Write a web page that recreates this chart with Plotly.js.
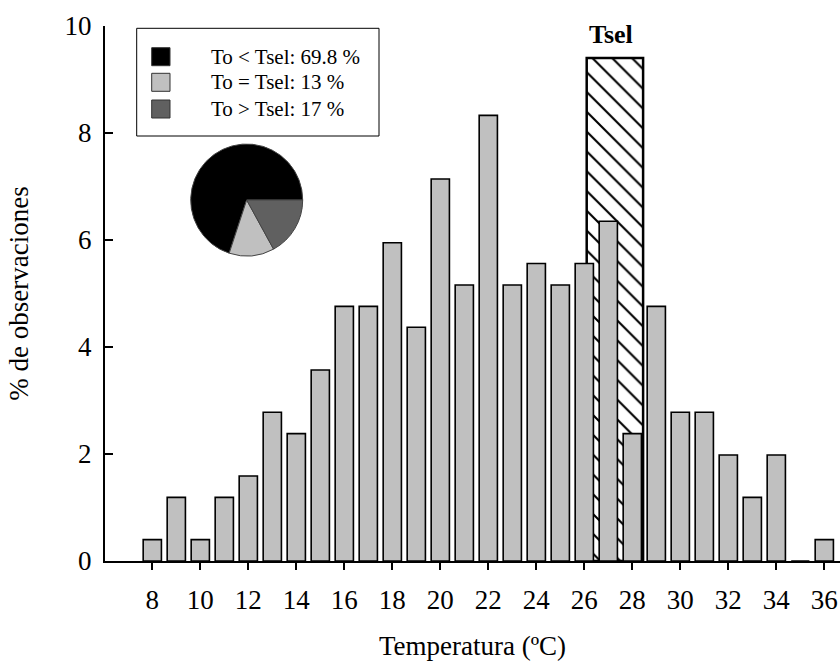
<!DOCTYPE html>
<html><head><meta charset="utf-8">
<script src="https://cdn.plot.ly/plotly-3.0.1.min.js"></script>
<style>html,body{margin:0;padding:0;background:#fff}</style>
</head><body>
<div id="chart" style="width:840px;height:667px"></div>
<script>
// ---- data ----
const temps = [8,9,10,11,12,13,14,15,16,17,18,19,20,21,22,23,24,25,26,27,28,29,30,31,32,33,34,35,36];
const pctObs = [0.40,1.19,0.40,1.19,1.59,2.78,2.38,3.57,4.76,4.76,5.95,4.37,7.14,5.16,8.33,5.16,5.56,5.16,5.56,6.35,2.38,4.76,2.78,2.78,1.98,1.19,1.98,0,0.40];
const xTicks = [8,10,12,14,16,18,20,22,24,26,28,30,32,34,36];
const yTicks = [0,2,4,6,8,10];
const tselLabel = "Tsel";
const tselLow = 26.1;
const tselHigh = 28.45;
const tselTop = 9.4;
const pieLabels = ["To < Tsel", "To = Tsel", "To > Tsel"];
const pieValues = [69.8, 13, 17];
const pieColors = ["#000000", "#c0c0c0", "#606060"];
const xTitle = "Temperatura (ºC)";
const yTitle = "% de observaciones";

// ---- layout helpers (pixel -> paper) ----
const L = 105, R = 0, T = 26, B = 106, W = 840, H = 667;
const PW = W - L - R, PH = H - T - B;
const px = x => (x - L) / PW;
const py = y => (H - B - y) / PH;
const FONT = "Liberation Serif, Times New Roman, serif";

// first slice should begin at 3 o'clock and run counterclockwise;
// plotly's counterclockwise layout ends the first slice at `rotation`
const pieTotal = pieValues.reduce((a, b) => a + b, 0);
const pieRotation = 90 - 360 * pieValues[0] / pieTotal;

const traces = [
  {
    type: "bar",
    x: [(tselLow + tselHigh) / 2],
    y: [tselTop],
    width: [tselHigh - tselLow],
    marker: {
      color: "white",
      line: {color: "black", width: 2.5},
      pattern: {shape: "\\", size: 14, solidity: 0.15, fgcolor: "black", bgcolor: "white", fillmode: "replace"}
    },
    showlegend: false,
    hoverinfo: "skip"
  },
  {
    type: "bar",
    x: temps,
    y: pctObs,
    width: 0.76,
    marker: {color: "#c0c0c0", line: {color: "black", width: 1.6}},
    showlegend: false
  },
  {
    type: "pie",
    labels: pieLabels,
    values: pieValues,
    sort: false,
    direction: "counterclockwise",
    rotation: pieRotation,
    textinfo: "none",
    marker: {colors: pieColors, line: {color: "#444", width: 1}},
    domain: {x: [px(190.7), px(302.7)], y: [py(256), py(144)]},
    showlegend: false,
    hoverinfo: "label+value"
  }
];

const shapes = [
  {type: "rect", xref: "paper", yref: "paper", x0: px(136.7), x1: px(379), y0: py(136), y1: py(28.3),
   line: {color: "black", width: 1}, fillcolor: "white", layer: "below"}
];
const annotations = [];
const rowY = [56.7, 82.3, 109];
pieLabels.forEach((lab, i) => {
  shapes.push({type: "rect", xref: "paper", yref: "paper",
    x0: px(151.7), x1: px(170), y0: py(rowY[i] + 9), y1: py(rowY[i] - 9),
    line: {color: "#333", width: 1}, fillcolor: pieColors[i]});
  annotations.push({xref: "paper", yref: "paper", x: px(208.5), y: py(rowY[i]),
    xanchor: "left", yanchor: "middle", showarrow: false,
    text: lab + ": " + pieValues[i] + " %", font: {family: FONT, size: 21, color: "black"}});
});
annotations.push({xref: "x", yref: "y", x: (tselLow + tselHigh) / 2, y: tselTop,
  xanchor: "center", yanchor: "bottom", yshift: 7, xshift: -4, showarrow: false,
  text: "<b>" + tselLabel + "</b>", font: {family: FONT, size: 26, color: "black"}});

const layout = {
  width: W, height: H,
  margin: {l: L, r: R, t: T, b: B, pad: 0},
  paper_bgcolor: "white", plot_bgcolor: "white",
  barmode: "overlay",
  showlegend: false,
  font: {family: FONT, color: "black"},
  xaxis: {
    range: [8 - 47.3 / 24, 8 - 47.3 / 24 + PW / 24],
    tickmode: "array", tickvals: xTicks, ticktext: xTicks.map(String),
    ticks: "outside", ticklen: 7, tickwidth: 2, tickcolor: "black",
    showline: true, linewidth: 2, linecolor: "black",
    showgrid: false, zeroline: false,
    tickfont: {family: FONT, size: 27, color: "black"},
    ticklabelstandoff: 7,
    title: {text: xTitle, font: {family: FONT, size: 27, color: "black"}, standoff: 22}
  },
  yaxis: {
    range: [0, 10],
    tickmode: "array", tickvals: yTicks, ticktext: yTicks.map(String),
    ticks: "inside", ticklen: 8, tickwidth: 2, tickcolor: "black",
    showline: true, linewidth: 2, linecolor: "black",
    showgrid: false, zeroline: false,
    tickfont: {family: FONT, size: 27, color: "black"},
    ticklabelstandoff: 6,
    title: {text: yTitle, font: {family: FONT, size: 27, color: "black"}, standoff: 28}
  },
  shapes: shapes,
  annotations: annotations
};

Plotly.newPlot("chart", traces, layout, {displayModeBar: false, staticPlot: true});
</script>
</body></html>
